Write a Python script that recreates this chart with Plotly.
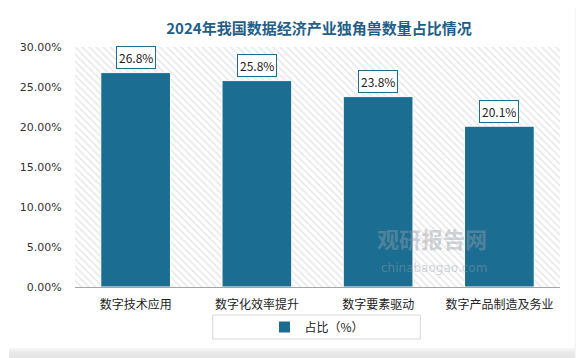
import plotly.graph_objects as go

categories = ["数字技术应用", "数字化效率提升", "数字要素驱动", "数字产品制造及务业"]
values = [26.8, 25.8, 23.8, 20.1]
labels = ["26.8%", "25.8%", "23.8%", "20.1%"]
y_ticks = [0, 5, 10, 15, 20, 25, 30]
y_tick_text = ["0.00%", "5.00%", "10.00%", "15.00%", "20.00%", "25.00%", "30.00%"]

BAR = "#1b6d91"
TITLE_C = "#1f6088"
FONT = "Noto Sans CJK SC"

# page body has an 8px default margin, so figure is offset by (8, 8)
OFF = 8
W, H = 584 - OFF, 358 - OFF

fig = go.Figure()

# hatched plot background (drawn on base subplot)
fig.add_trace(go.Bar(
    x=[0.5], y=[30], width=[1], xaxis="x", yaxis="y",
    marker=dict(color="white", line=dict(width=0),
                pattern=dict(shape="\\", fgcolor="#cfcfcf", bgcolor="white", size=5, solidity=0.3)),
    showlegend=False, hoverinfo="skip",
))

fig.add_trace(go.Bar(
    x=categories, y=values, xaxis="x2", yaxis="y",
    name="占比（%）",
    marker=dict(color=BAR, line=dict(color="white", width=1)),
    width=0.575,
))

for c, v, t in zip(categories, values, labels):
    fig.add_annotation(
        x=c, y=v, xref="x2", yref="y", text=t, showarrow=False,
        yshift=15, bgcolor="white", bordercolor=BAR, borderwidth=1, borderpad=2,
        font=dict(family=FONT, size=12, color="#222222"),
    )

def px2x(px):
    return (px - 67) / 493.0

def py2y(py):
    return (287 - py) / 240.0

shapes = []
# card shadows (bottom and right)
for i, col in enumerate(["#f4f4f4", "#eeeeee", "#e9e9e9", "#e6e6e6"]):
    shapes.append(dict(type="rect", xref="paper", yref="paper",
                       x0=px2x(0), x1=px2x(600), y0=py2y(348 + 2 * i + 2), y1=py2y(348 + 2 * i),
                       fillcolor=col, line=dict(width=0), layer="below"))
shapes.append(dict(type="rect", xref="paper", yref="paper",
                   x0=px2x(0), x1=px2x(600), y0=py2y(400), y1=py2y(356),
                   fillcolor="#e6e6e6", line=dict(width=0), layer="below"))
for i, col in enumerate(["#f4f4f4", "#eeeeee", "#e9e9e9", "#e6e6e6"]):
    shapes.append(dict(type="rect", xref="paper", yref="paper",
                       x0=px2x(575 + 2 * i), x1=px2x(575 + 2 * i + 2), y0=py2y(400), y1=py2y(0),
                       fillcolor=col, line=dict(width=0), layer="below"))
# legend box
shapes.append(dict(type="rect", xref="paper", yref="paper",
                   x0=px2x(207), x1=px2x(418), y0=py2y(339), y1=py2y(315),
                   fillcolor="rgba(0,0,0,0)", line=dict(color="#d6d6d6", width=1)))

fig.update_layout(shapes=shapes)

# watermark
fig.add_annotation(x=px2x(488), y=py2y(256), xref="paper", yref="paper", showarrow=False,
                   text="<b>观研报告网</b>", font=dict(family=FONT, size=22, color="rgba(150,160,170,0.45)"))
fig.add_annotation(x=px2x(488), y=py2y(277), xref="paper", yref="paper", showarrow=False,
                   text="chinabaogao.com", font=dict(family="DejaVu Sans", size=12, color="rgba(150,160,170,0.45)"))

fig.update_layout(
    width=W, height=H,
    margin=dict(l=67 - OFF, r=584 - 560, t=47 - OFF, b=358 - 287),
    paper_bgcolor="white", plot_bgcolor="white",
    title=dict(text="<b>2024年我国数据经济产业独角兽数量占比情况</b>",
               x=px2x(315), xref="paper", xanchor="center",
               y=1 - (29 - OFF) / H, yanchor="middle",
               font=dict(family=FONT, size=15, color=TITLE_C)),
    xaxis=dict(range=[0, 1], visible=False, fixedrange=True),
    xaxis2=dict(overlaying="x", type="category", side="bottom",
                showline=True, linecolor="#a6a6a6", linewidth=1,
                ticks="outside", ticklen=7, tickcolor="rgba(0,0,0,0)",
                tickfont=dict(family=FONT, size=12, color="#222222")),
    yaxis=dict(range=[0, 30], tickvals=y_ticks, ticktext=y_tick_text,
               showgrid=False, zeroline=False, showline=False,
               ticks="outside", ticklen=10, tickcolor="rgba(0,0,0,0)",
               tickfont=dict(family="DejaVu Sans", size=11, color="#333333")),
    bargap=0.43,
    showlegend=True,
    legend=dict(orientation="h", x=px2x(313), xanchor="center", y=py2y(327), yanchor="middle",
                font=dict(family=FONT, size=12, color="#222222"), bgcolor="rgba(0,0,0,0)",
                traceorder="normal"),
)

fig.write_html("out.html")
